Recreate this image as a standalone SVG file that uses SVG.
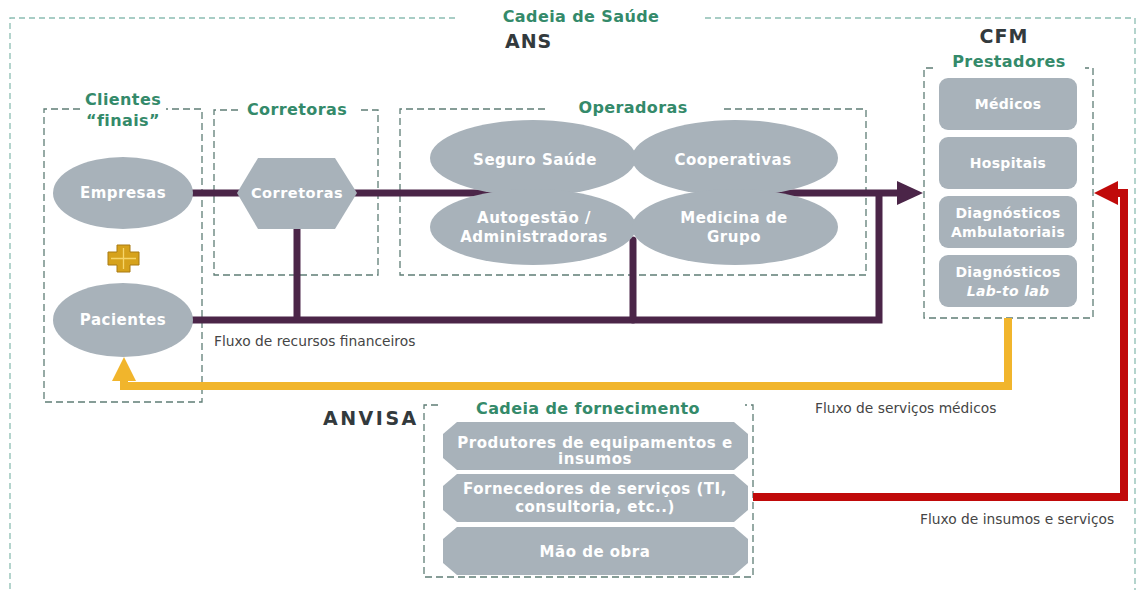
<svg xmlns="http://www.w3.org/2000/svg" width="1139" height="590" viewBox="0 0 1139 590">
<style>
.outer{fill:none;stroke:#8cbdb2;stroke-width:1.3;stroke-dasharray:6 4}
.box{fill:none;stroke:#5f7d76;stroke-width:1.3;stroke-dasharray:7 4}
.shape{fill:#a8b2ba}
.nt{font-family:"DejaVu Sans",Verdana,sans-serif;font-weight:bold;font-size:15px;letter-spacing:0.5px;fill:#ffffff;text-anchor:middle}
.pt{font-size:14px;letter-spacing:0.3px}
.title{font-family:"DejaVu Sans",Verdana,sans-serif;font-weight:bold;font-size:16px;letter-spacing:0.4px;fill:#348a6a;text-anchor:middle}
.reg{font-family:"DejaVu Sans",Verdana,sans-serif;font-weight:bold;font-size:19px;letter-spacing:1px;fill:#333a3d}
.lbl{font-family:"DejaVu Sans",Verdana,sans-serif;font-size:13.8px;fill:#454545}
.purple{fill:none;stroke:#4b2548;stroke-width:7}
.yellow{fill:none;stroke:#f1b52c;stroke-width:8}
.red{fill:none;stroke:#c00a0a;stroke-width:8}
</style>

<rect x="0" y="0" width="1139" height="590" fill="#ffffff"/>

<!-- outer frame -->
<g id="cadeia-saude">
  <path class="outer" d="M455 18 H10 V592"/>
  <path class="outer" d="M705 18 H1135 V592"/>
  <text class="title" x="581" y="22">Cadeia de Saúde</text>
  <text class="reg" x="505" y="48">ANS</text>
  <text class="reg" x="1004" y="43" text-anchor="middle">CFM</text>
  <text class="reg" x="323" y="425" style="letter-spacing:2.5px">ANVISA</text>
</g>

<!-- group boxes -->
<g id="box-clientes">
  <path class="box" d="M80 109 H44 V402 H202 V109 H166"/>
  <text class="title" x="123" y="105">Clientes</text>
  <text class="title" x="123" y="126">“finais”</text>
</g>
<g id="box-corretoras">
  <path class="box" d="M238 110 H214 V275 H378 V110 H358"/>
  <text class="title" x="297" y="115">Corretoras</text>
</g>
<g id="box-operadoras">
  <path class="box" d="M545 109 H400 V275 H866 V109 H723"/>
  <text class="title" x="633" y="113">Operadoras</text>
</g>
<g id="box-prestadores">
  <path class="box" d="M933 68 H924 V318 H1093 V68 H1085"/>
  <text class="title" x="1009" y="67">Prestadores</text>
</g>
<g id="box-fornecimento">
  <path class="box" d="M438 405 H424 V577 H753 V405 H745"/>
  <text class="title" x="588" y="414">Cadeia de fornecimento</text>
</g>

<!-- connectors -->
<g id="connectors">
  <path class="purple" d="M190 193 H242"/>
  <path class="purple" d="M352 193 H562"/>
  <path class="purple" d="M706 193 H900"/>
  <polygon points="897,181 923,193 897,205" fill="#4b2548"/>
  <path class="purple" d="M879 193 V320 H190"/>
  <path class="purple" d="M297 225 V320"/>
  <path class="purple" d="M633 240 V320" stroke-linecap="round"/>

  <path class="yellow" d="M1008 318 V386 H124 V378"/>
  <polygon points="112,381 124,357 136,381" fill="#f1b52c"/>

  <path class="red" d="M753 497 H1124 V193 H1114"/>
  <polygon points="1118,181 1094,193 1118,205" fill="#c00a0a"/>

  <text class="lbl" x="214" y="346">Fluxo de recursos financeiros</text>
  <text class="lbl" x="815" y="413">Fluxo de serviços médicos</text>
  <text class="lbl" x="920" y="524">Fluxo de insumos e serviços</text>
</g>

<!-- nodes -->
<g id="node-empresas">
  <ellipse class="shape" cx="123" cy="193" rx="70" ry="36"/>
  <text class="nt" x="123" y="198">Empresas</text>
</g>
<g id="node-plus">
  <polygon points="117,245 130,245 130,252 139,252 139,265 130,265 130,272 117,272 117,265 108,265 108,252 117,252" fill="#d6a21c" stroke="#a97a12" stroke-width="1"/>
  <path d="M123.5 248 V269 M111 258.5 H136" stroke="#f6d56a" stroke-width="1.3"/>
</g>
<g id="node-pacientes">
  <ellipse class="shape" cx="123" cy="320" rx="70" ry="37"/>
  <text class="nt" x="123" y="325">Pacientes</text>
</g>
<g id="node-corretoras">
  <polygon class="shape" points="258,158 335,158 357,193 335,229 258,229 237,193"/>
  <text class="nt" x="297" y="198" style="font-size:14.5px">Corretoras</text>
</g>
<g id="node-seguro">
  <ellipse class="shape" cx="533" cy="158" rx="103" ry="38"/>
  <text class="nt" x="535" y="165">Seguro Saúde</text>
</g>
<g id="node-cooperativas">
  <ellipse class="shape" cx="735" cy="158" rx="103" ry="38"/>
  <text class="nt" x="733" y="165">Cooperativas</text>
</g>
<g id="node-autogestao">
  <ellipse class="shape" cx="533" cy="227" rx="103" ry="38"/>
  <text class="nt" x="534" y="223">Autogestão /</text>
  <text class="nt" x="534" y="242">Administradoras</text>
</g>
<g id="node-medicina">
  <ellipse class="shape" cx="735" cy="227" rx="103" ry="38"/>
  <text class="nt" x="734" y="223">Medicina de</text>
  <text class="nt" x="734" y="242">Grupo</text>
</g>

<g id="node-medicos">
  <rect class="shape" x="939" y="78" width="138" height="52" rx="9"/>
  <text class="nt pt" x="1008" y="109">Médicos</text>
</g>
<g id="node-hospitais">
  <rect class="shape" x="939" y="137" width="138" height="52" rx="9"/>
  <text class="nt pt" x="1008" y="168">Hospitais</text>
</g>
<g id="node-diag-amb">
  <rect class="shape" x="939" y="196" width="138" height="52" rx="9"/>
  <text class="nt pt" x="1008" y="218">Diagnósticos</text>
  <text class="nt pt" x="1008" y="237">Ambulatoriais</text>
</g>
<g id="node-diag-lab">
  <rect class="shape" x="939" y="255" width="138" height="52" rx="9"/>
  <text class="nt pt" x="1008" y="277">Diagnósticos</text>
  <text class="nt pt" x="1008" y="296" font-style="italic">Lab-to lab</text>
</g>

<g id="node-produtores">
  <path class="shape" d="M457 422 H734 L748 434 V458 L734 470 H457 L443 458 V434 Z"/>
  <text class="nt" x="595" y="448">Produtores de equipamentos e</text>
  <text class="nt" x="595" y="464">insumos</text>
</g>
<g id="node-fornecedores">
  <path class="shape" d="M457 474 H734 L748 486 V510 L734 522 H457 L443 510 V486 Z"/>
  <text class="nt" x="595" y="494">Fornecedores de serviços (TI,</text>
  <text class="nt" x="595" y="512">consultoria, etc..)</text>
</g>
<g id="node-mao">
  <path class="shape" d="M457 527 H734 L748 539 V563 L734 575 H457 L443 563 V539 Z"/>
  <text class="nt" x="595" y="557">Mão de obra</text>
</g>
</svg>
